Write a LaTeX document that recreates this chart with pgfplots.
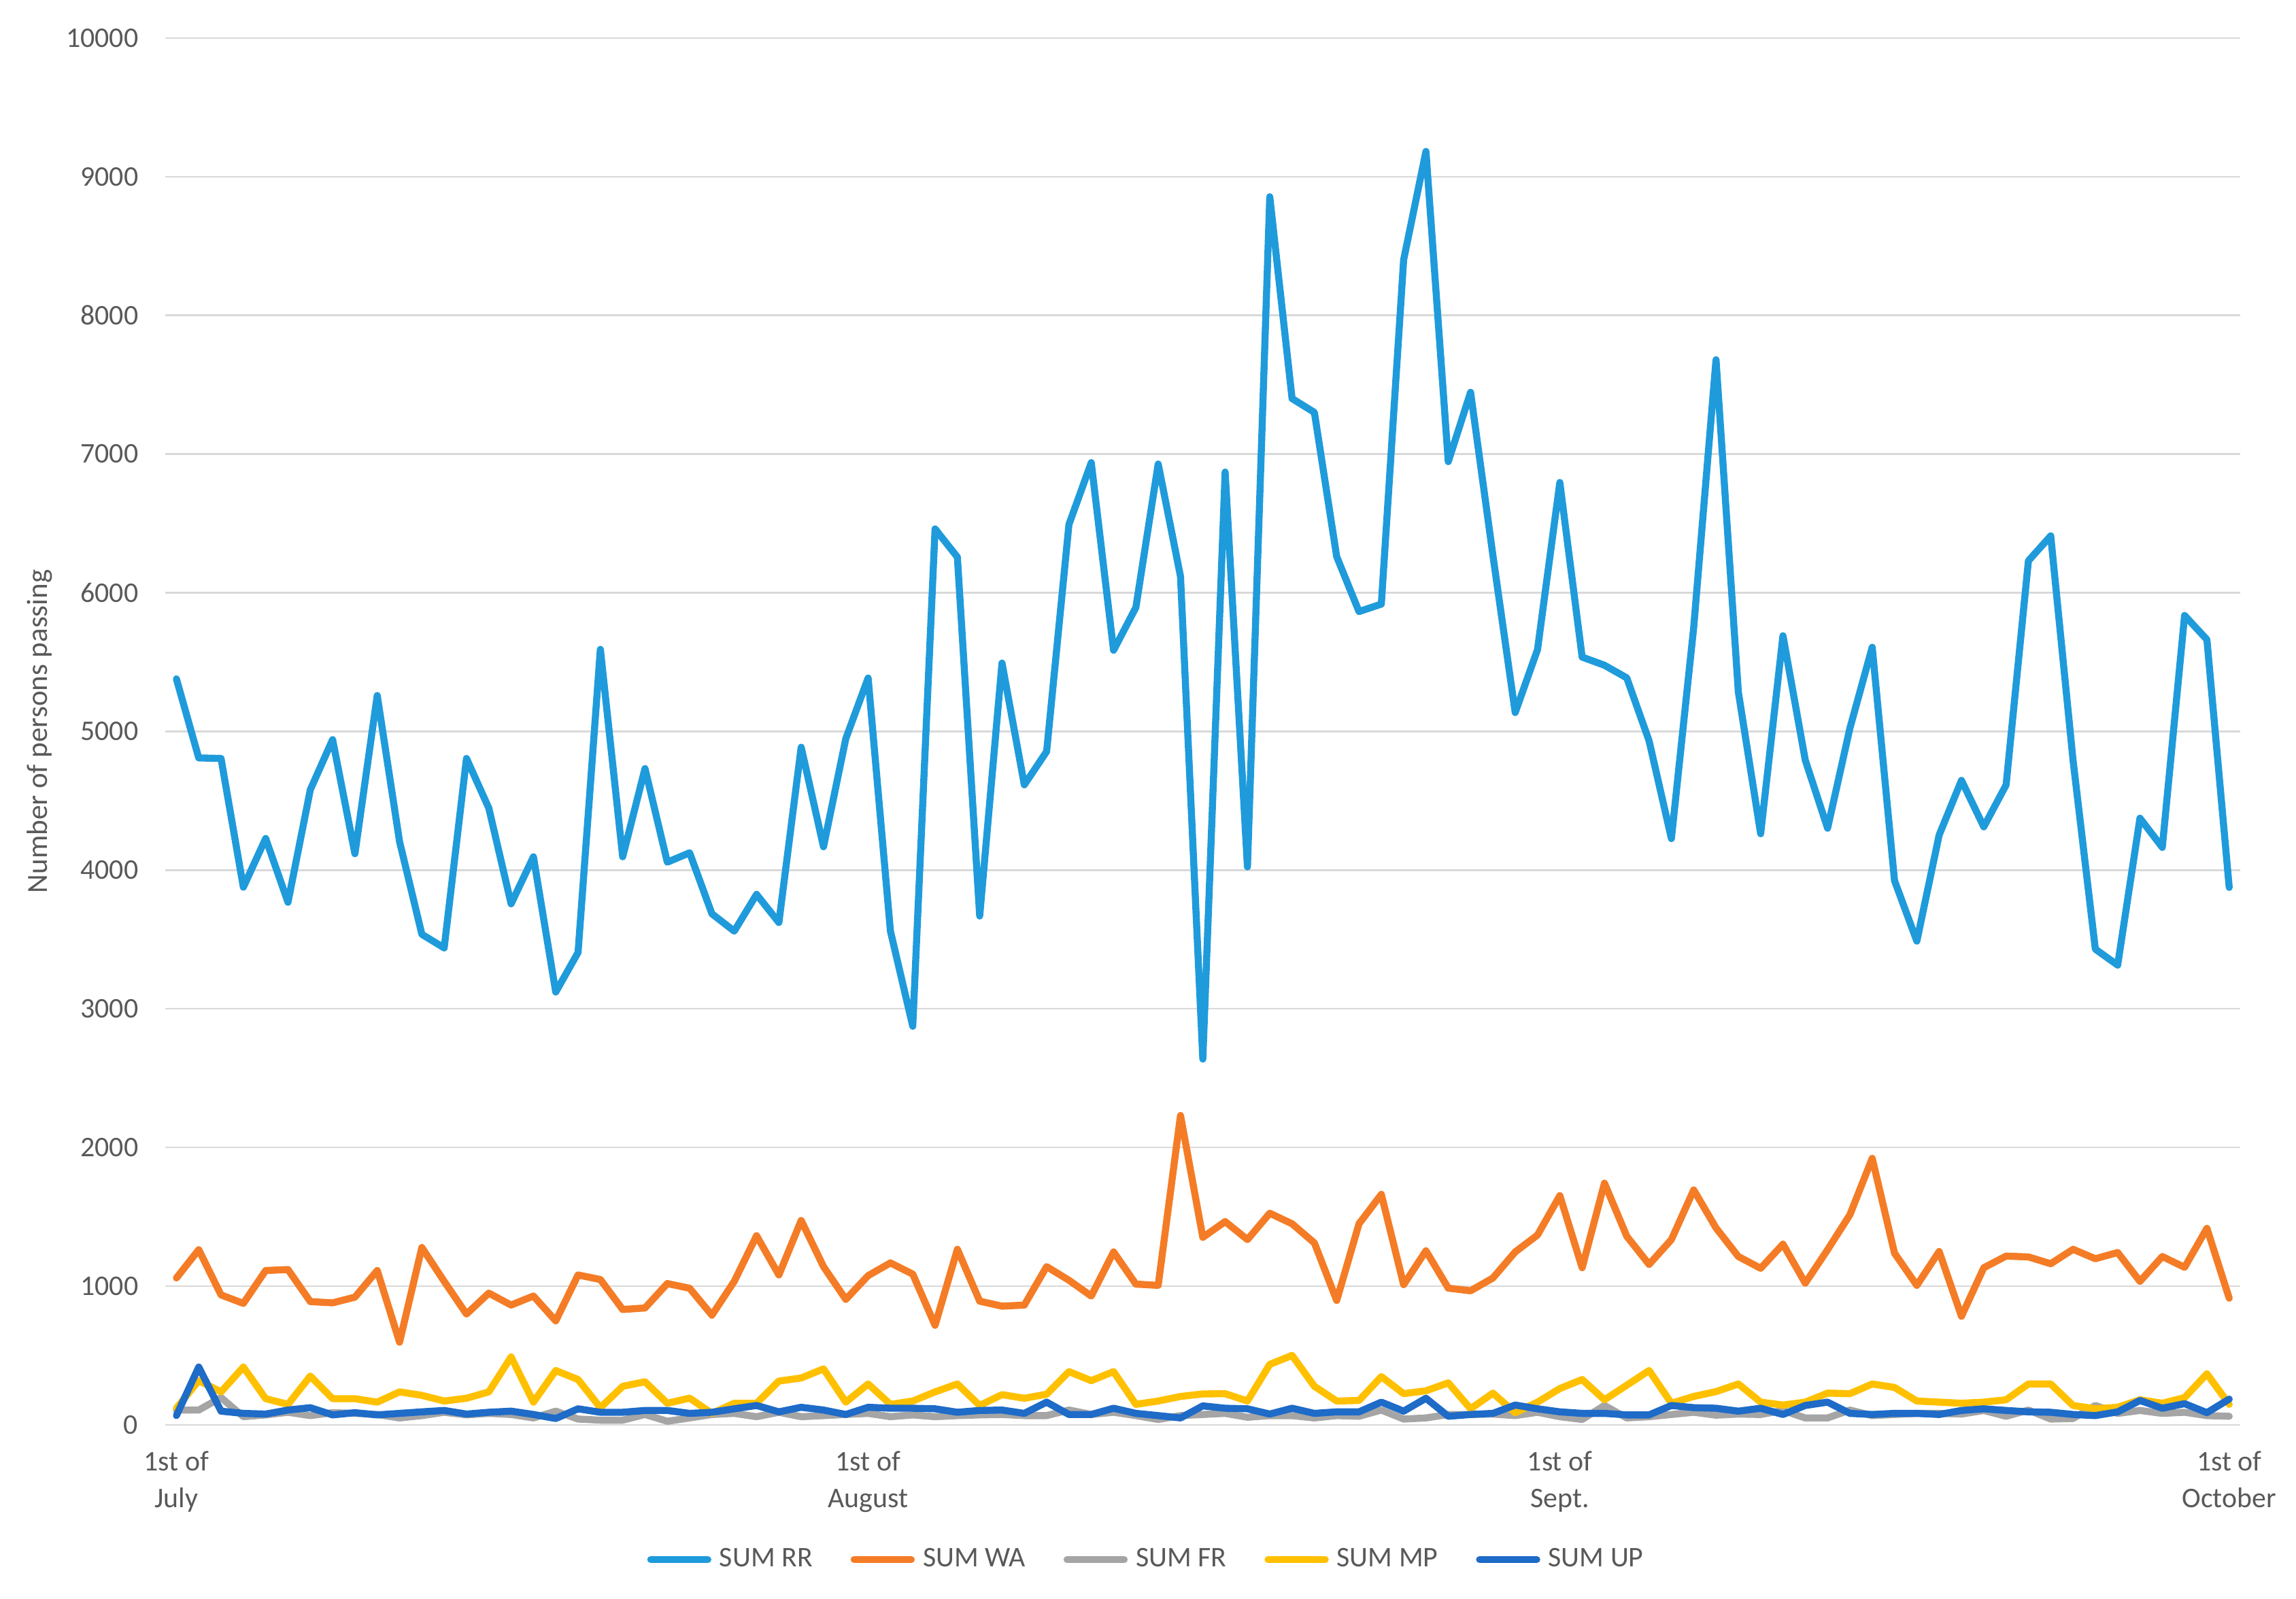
\documentclass[border=0pt]{standalone}
\usepackage{fontspec}
\setmainfont{Carlito}
\usepackage{pgfplots}
\pgfplotsset{compat=1.18}
\usepackage{pgfplotstable}
\definecolor{cRR}{HTML}{1F9BDB}
\definecolor{cWA}{HTML}{F47C26}
\definecolor{cFR}{HTML}{A5A5A5}
\definecolor{cMP}{HTML}{FFC000}
\definecolor{cUP}{HTML}{1E6BC8}
\definecolor{txt}{HTML}{595959}
\definecolor{grd}{HTML}{D9D9D9}
\pgfplotstableread{
d RR WA FR MP UP
0 5379 1059 107 120 67
1 4809 1263 107 319 417
2 4805 937 197 238 99
3 3877 876 59 417 83
4 4228 1113 72 189 78
5 3768 1120 91 148 107
6 4579 889 67 352 124
7 4941 880 88 189 72
8 4118 921 83 189 88
9 5259 1113 75 164 72
10 4206 596 50 238 83
11 3537 1279 67 213 94
12 3439 1035 91 172 104
13 4805 799 72 192 78
14 4447 950 83 238 91
15 3757 864 75 490 99
16 4096 929 50 164 75
17 3121 750 99 392 46
18 3406 1081 42 327 116
19 5592 1048 34 124 91
20 4096 832 34 278 91
21 4732 843 75 311 104
22 4057 1019 26 156 104
23 4125 985 50 193 83
24 3685 791 75 83 91
25 3560 1035 83 156 116
26 3825 1364 59 156 140
27 3622 1081 91 316 94
28 4886 1474 59 338 127
29 4168 1141 67 404 107
30 4948 905 75 164 75
31 5385 1076 83 295 127
32 3560 1168 59 148 120
33 2874 1087 72 172 120
34 6460 718 59 238 116
35 6257 1266 67 295 91
36 3669 892 72 140 104
37 5493 856 75 218 107
38 4615 864 67 192 83
39 4855 1141 67 221 164
40 6492 1043 107 384 75
41 6938 929 75 319 75
42 5585 1247 91 384 120
43 5894 1015 67 148 83
44 6928 1006 39 172 67
45 6117 2231 67 205 50
46 2637 1352 75 223 137
47 6870 1466 83 225 120
48 4023 1336 55 172 116
49 8855 1526 67 436 78
50 7400 1450 67 501 120
51 7300 1312 50 278 83
52 6260 897 67 172 94
53 5864 1450 62 176 94
54 5918 1662 107 348 164
55 8400 1011 42 225 99
56 9182 1255 50 246 192
57 6945 986 75 303 62
58 7445 967 75 116 75
59 6270 1059 78 229 83
60 5136 1247 67 88 143
61 5590 1369 91 164 116
62 6795 1653 59 262 94
63 5536 1133 39 327 83
64 5477 1743 140 181 83
65 5386 1360 50 286 72
66 4932 1157 59 392 72
67 4227 1336 75 156 140
68 5750 1694 91 205 124
69 7680 1420 70 240 120
70 5285 1214 78 295 99
71 4262 1129 75 164 120
72 5690 1303 104 143 75
73 4793 1022 50 164 140
74 4302 1263 50 229 164
75 5023 1515 107 225 83
76 5607 1922 67 295 75
77 3924 1238 75 270 83
78 3488 1006 83 172 83
79 4253 1250 83 164 75
80 4647 783 78 156 104
81 4312 1133 104 164 116
82 4614 1217 62 181 104
83 6230 1211 107 295 94
84 6410 1162 42 295 91
85 4793 1266 46 140 75
86 3430 1198 140 116 67
87 3315 1243 83 127 94
88 4374 1035 104 181 176
89 4164 1214 83 156 120
90 5836 1136 91 197 153
91 5662 1417 67 368 88
92 3875 913 62 148 186
}\data
\begin{document}
\begin{tikzpicture}
\begin{axis}[
  name=ax,
  at={(0,0)}, anchor=south west,
  scale only axis,
  width=762.8bp, height=509.8bp,
  xmin=-0.5, xmax=92.5,
  ymin=0, ymax=10000,
  ytick={0,1000,...,10000},
  scaled y ticks=false,
  xtick={0,31,62,92},
  xticklabels={{1st of\\July},{1st of\\August},{1st of\\Sept.},{1st of\\October}},
  major tick length=0pt,
  axis line style={draw=none},
  ymajorgrids,
  grid style={draw=grd, line width=0.6bp},
  /pgf/number format/assume math mode=true,
  /pgf/number format/set thousands separator={},
  tick label style={font=\fontsize{10.5}{13.5}\selectfont, text=txt},
  yticklabel style={inner sep=0pt, anchor=east, xshift=-9.75bp},
  xticklabel style={align=center, inner sep=0pt, anchor=north, yshift=-9.6bp},
  ylabel={Number of persons passing},
  ylabel style={at={(axis description cs:-0.0606,0.5)}, anchor=center, rotate=0, font=\fontsize{10.8}{13}\selectfont, text=txt},
  legend columns=5,
  legend style={at={(axis description cs:0.4736,-0.0971)}, anchor=center, draw=none, fill=none,
    font=\fontsize{10.5}{13}\selectfont, text=txt,
    /tikz/every even column/.append style={column sep=12bp},
    /tikz/every odd column/.append style={column sep=1bp}},
  legend image code/.code={\draw[#1, line width=2.6pt, line cap=round] (0bp,0bp) -- (21bp,0bp);},
  every axis plot/.append style={line width=2.6pt, line join=round, line cap=round, mark=none},
]
\addplot[cRR] table[x=d, y=RR] {\data};
\addlegendentry{SUM RR}
\addplot[cWA] table[x=d, y=WA] {\data};
\addlegendentry{SUM WA}
\addplot[cFR] table[x=d, y=FR] {\data};
\addlegendentry{SUM FR}
\addplot[cMP] table[x=d, y=MP] {\data};
\addlegendentry{SUM MP}
\addplot[cUP] table[x=d, y=UP] {\data};
\addlegendentry{SUM UP}
\end{axis}
\pgfresetboundingbox
\path[use as bounding box] (-60.75bp,-64bp) rectangle (783.25bp,523.75bp);
\end{tikzpicture}
\end{document}
